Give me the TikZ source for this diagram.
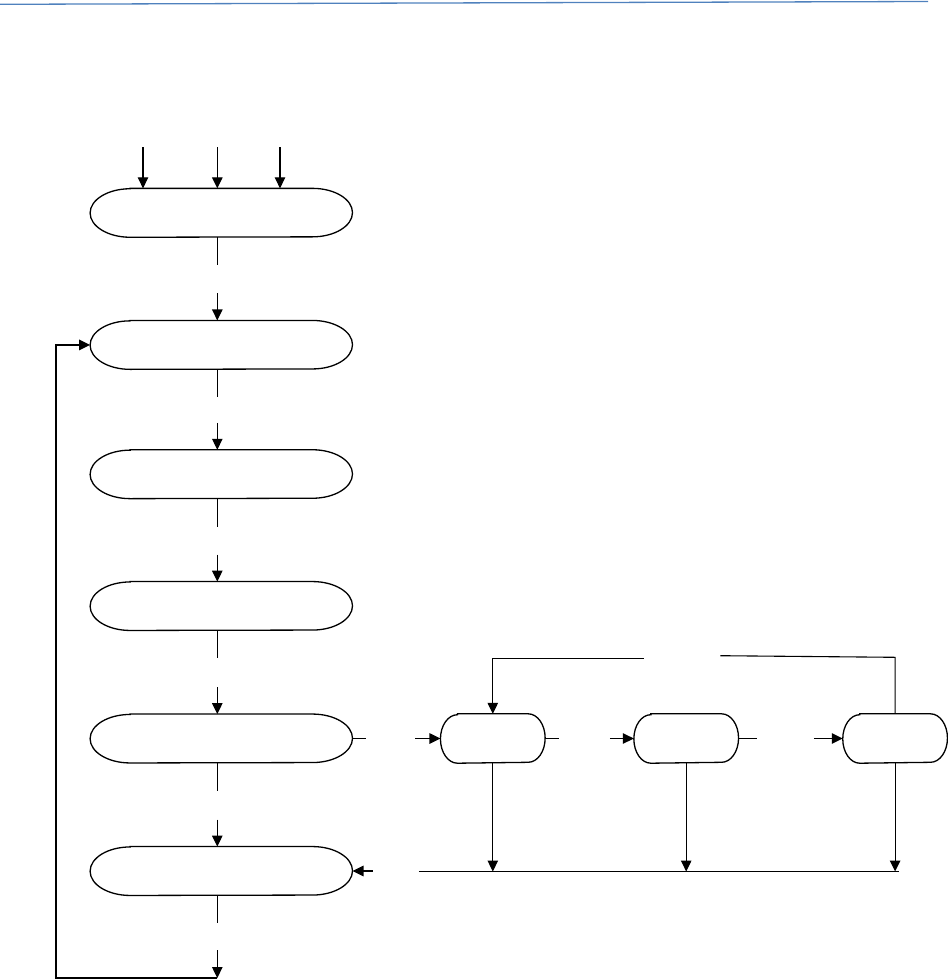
\documentclass[tikz,border=0pt]{standalone}
\usepackage{tikz}
\usetikzlibrary{arrows.meta,positioning,calc}
\usepackage{xcolor}
\definecolor{rulebl}{HTML}{4F81BD}

\begin{document}
\begin{tikzpicture}[x=1pt, y=-1pt,
  stage/.style={rectangle, minimum width=262pt, minimum height=48.5pt, inner sep=0pt},
  unit/.style={rectangle, minimum width=104.3pt, minimum height=49pt, inner sep=0pt},
  outl/.style={line width=1.3pt, black},
  arr/.style={-{Triangle[length=11pt, width=10.5pt]}, line width=1.1pt},
  ln/.style={line width=1.1pt}
]
  \useasboundingbox (0,0) rectangle (947,979);
  \draw[rulebl, line width=1.3pt] (0,4.3) -- (928,1.5);

  % main column
  \node[stage] (s1) at (221.3,212.8) {};
  \node[stage] (s2) at (221.3,344.9) {};
  \node[stage] (s3) at (221.3,474.2) {};
  \node[stage] (s4) at (221.3,606.0) {};
  \node[stage] (s5) at (221.3,738.5) {};
  \node[stage] (s6) at (221.3,871.0) {};

  % side units
  \node[unit] (u1) at (492.8,738.5) {};
  \node[unit] (u2) at (686.2,738.5) {};
  \node[unit] (u3) at (895.1,738.5) {};

  % capsule outlines
  \foreach \n/\r in {s1/40,s2/40,s3/40,s4/40,s5/40,s6/40,u1/17,u2/17,u3/17}
    \draw[outl] ([xshift=\r pt]\n.north west) -- ([xshift=-\r pt]\n.north east)
      arc[start angle=90, end angle=-90, x radius=\r pt, y radius=24.25pt]
      -- ([xshift=\r pt]\n.south west)
      arc[start angle=270, end angle=90, x radius=\r pt, y radius=24.25pt] -- cycle;

  \coordinate (sp) at (217.3,0);

  % inputs
  \foreach \x [count=\i] in {143,217.3,280} {
    \coordinate (in\i) at (\x,147);
    \draw[arr] (in\i) -- (in\i |- s1.north);
  }

  % broken links down the column
  \foreach \a/\b in {s1/s2,s2/s3,s3/s4,s4/s5,s5/s6} {
    \draw[ln] (\a.south -| sp) -- ++(0,28);
    \draw[arr] ($(\b.north -| sp)+(0,-27)$) -- (\b.north -| sp);
  }
  \draw[ln] (s6.south -| sp) -- ++(0,28);
  \coordinate (fb) at (217.3,978);
  \draw[arr] ($(fb)+(0,-28)$) -- (fb);

  % return loop
  \draw[arr, line width=1.4pt] (fb) -| ($(s2.west)+(-34,0)$) -- (s2.west);

  % side chain
  \draw[ln] (s5.east) -- ++(13.5,0);
  \draw[arr] ($(u1.west)+(-25,0)$) -- (u1.west);
  \draw[ln, line width=1.6pt] (u1.east) -- ++(13.5,0);
  \draw[arr] ($(u2.west)+(-24,0)$) -- (u2.west);
  \draw[ln, line width=1.6pt] (u2.east) -- ++(18,0);
  \draw[arr] ($(u3.west)+(-29,0)$) -- (u3.west);

  % recycle over the top
  \coordinate (r1) at (643.7,658.3);
  \coordinate (r2) at (720.4,655.7);
  \draw[arr] (r1) -| (u1.north);
  \draw[ln] (r2) -- ($(u3.north)+(0,-56.5)$) -- (u3.north);

  % collecting line
  \coordinate (b1) at (418.8,871.5);
  \coordinate (b2) at (898.6,871.5);
  \draw[ln] (b1) -- (b2);
  \foreach \u in {u1,u2,u3}
    \draw[arr] (\u.south) -- (\u.south |- b1);
  \coordinate (b0) at (372.5,871.0);
  \draw[arr] (b0) -- (s6.east);
\end{tikzpicture}
\end{document}
